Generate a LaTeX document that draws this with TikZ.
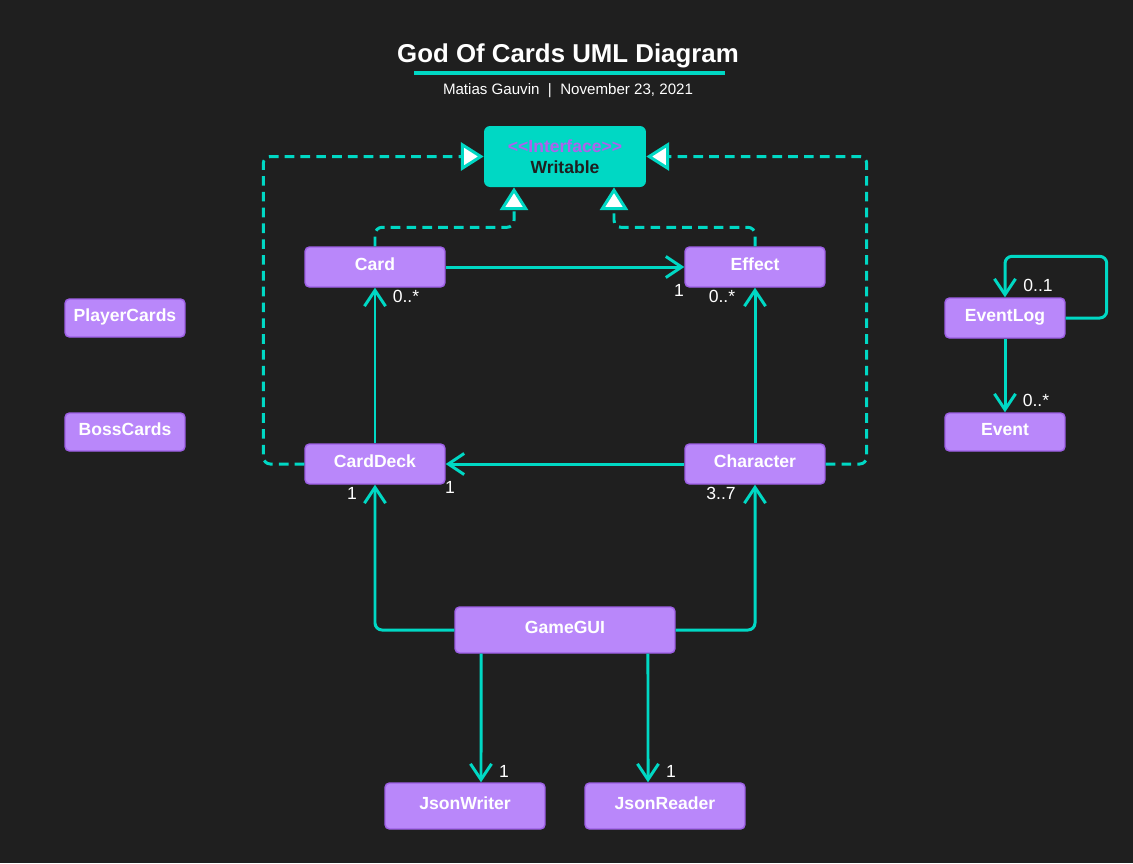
\documentclass[tikz,border=0pt]{standalone}
\usepackage{fontspec}
\setmainfont{Liberation Sans}
\usetikzlibrary{arrows.meta}
\definecolor{bgdark}{HTML}{1F1F1F}
\definecolor{tealline}{HTML}{00D8C4}
\definecolor{classfill}{HTML}{B987FA}
\definecolor{classedge}{HTML}{9D5FE6}
\definecolor{ifacetext}{HTML}{AE62EC}
\tikzset{
  cls/.style={draw=classedge, fill=classfill, line width=0.8pt, rounded corners=2.5pt,
    text=white, font=\bfseries\fontsize{10}{12}\selectfont, inner sep=0pt,
    text height=7.5pt, text depth=3.1pt, minimum width=2.8cm, minimum height=0.8cm},
  assoc/.style={draw=tealline, line width=1.7pt, rounded corners=4pt,
    -{Straight Barb[length=9pt,width=12pt]}},
  realize/.style={draw=tealline, line width=1.7pt, rounded corners=4pt,
    dash pattern=on 5.5pt off 3.5pt, -{Triangle[length=13pt,width=16pt,fill=white]}},
  mult/.style={text=white, font=\fontsize{10}{12}\selectfont, inner sep=0pt},
}

\begin{document}
\begin{tikzpicture}[x=0.02cm, y=-0.02cm]
\fill[bgdark] (0,0) rectangle (1133,863);
\useasboundingbox (0,0) rectangle (1133,863);

% heading
\node[text=white, font=\bfseries\fontsize{14.7}{17}\selectfont] (title) at (568,56) {God Of Cards UML Diagram};
\draw[tealline, line width=2pt] (414,73) -- (725,73);
\node[text=white, font=\fontsize{8.6}{10}\selectfont] (byline) at (568,91) {Matias Gauvin \ | \ November 23, 2021};

% interface
\node[fill=tealline, rounded corners=3.4pt, minimum width=3.24cm, minimum height=1.22cm, inner sep=0pt,
  align=center, font=\bfseries\fontsize{10}{11.9}\selectfont, text=bgdark] (writable) at (565,156.5)
  {{\color{ifacetext}<\kern0pt<Interface>\kern0pt>}\\Writable};

% classes
\node[cls] (card) at (375,267) {Card};
\node[cls] (effect) at (755,267) {Effect};
\node[cls] (carddeck) at (375,464) {CardDeck};
\node[cls] (character) at (755,464) {Character};
\node[cls, minimum width=2.4cm, minimum height=0.76cm] (playercards) at (125,318) {PlayerCards};
\node[cls, minimum width=2.4cm, minimum height=0.76cm] (bosscards) at (125,432) {BossCards};
\node[cls, minimum width=2.4cm] (eventlog) at (1005,318) {EventLog};
\node[cls, minimum width=2.4cm, minimum height=0.76cm] (event) at (1005,432) {Event};
\node[cls, minimum width=4.4cm, minimum height=0.92cm] (gamegui) at (565,630) {GameGUI};
\node[cls, minimum width=3.2cm, minimum height=0.92cm] (jsonwriter) at (465,806) {JsonWriter};
\node[cls, minimum width=3.2cm, minimum height=0.92cm] (jsonreader) at (665,806) {JsonReader};

% realizations
\draw[realize] (card.north) -- ++(0,-19) -| ([xshift=-1.02cm]writable.south);
\draw[realize] (effect.north) -- ++(0,-19) -| ([xshift=0.98cm]writable.south);
\draw[realize] (carddeck.west) -- ++(-41,0) |- (writable.west);
\draw[realize] (character.east) -- ++(41,0) |- (writable.east);

% associations
\draw[assoc] (card.east) -- (effect.west);
\draw[assoc] (carddeck.north) -- (card.south);
\draw[assoc] (character.north) -- (effect.south);
\draw[assoc] (character.west) -- (carddeck.east);
\draw[assoc] (gamegui.west) -| (carddeck.south);
\draw[assoc] (gamegui.east) -| (character.south);
\draw[assoc] ([xshift=-1.68cm]gamegui.south) -- ([xshift=0.32cm]jsonwriter.north);
\draw[assoc] ([xshift=1.66cm]gamegui.south) -- ([xshift=-0.34cm]jsonreader.north);
\draw[assoc] (eventlog.east) -- ++(41,0) |- ([yshift=0.82cm]eventlog.north) -- (eventlog.north);
\draw[assoc] (eventlog.south) -- (event.north);

% multiplicities
\node[mult] (mCard) at (406,296) {0..*};
\node[mult] (mEffectA) at (679,290) {1};
\node[mult] (mEffectB) at (722,296) {0..*};
\node[mult] (mDeckA) at (450,487) {1};
\node[mult] (mDeckB) at (352,493) {1};
\node[mult] (mChar) at (721,493) {3..7};
\node[mult] (mWriter) at (504,771) {1};
\node[mult] (mReader) at (671,771) {1};
\node[mult] (mLog) at (1038,285) {0..1};
\node[mult] (mEvent) at (1036,400) {0..*};
\end{tikzpicture}
\end{document}
